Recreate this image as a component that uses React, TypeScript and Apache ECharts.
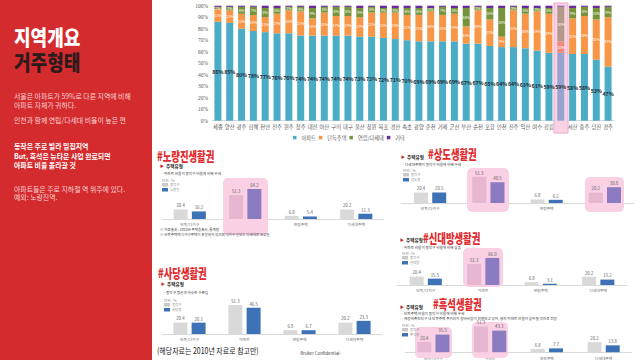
import React, { useEffect, useRef } from 'react';
import * as echarts from 'echarts';

// ---- Main chart data (주거형태 by city, %) ----
const cities = ['세종','양산','광주','김해','천안','전주','원주','청주','대전','아산','구미','대구','울산','창원','목포','경산','속초','광양','춘천','거제','군산','부산','순천','포항','인천','진주','익산','여수','강릉','서울','서산','충주','당진','경주'];
const apartment = [86,85,80,78,77,76,76,74,74,74,74,74,73,73,72,71,70,69,69,69,69,67,67,65,64,64,63,61,59,59,58,58,53,47];
const detached = [11,11,13,14,13,17,20,21,15,20,17,17,17,21,22,23,22,23,26,23,24,15,29,23,9,32,30,34,34,10,31,33,35,43];
const rowMulti = [2,3,6,7,8,5,3,4,9,5,8,8,8,5,4,4,6,6,3,7,5,16,3,10,25,3,5,3,5,30,9,8,10,9];
const others = [1,1,1,1,2,2,1,1,2,1,1,1,2,1,2,2,2,2,2,1,2,2,1,2,2,1,2,2,2,1,2,1,2,1];
const mainSeriesNames = ['아파트','단독주택','연립/다세대','기타'];

// ---- Small charts data (주택유형, %) ----
const houseTypes = ['단독/다가구','아파트','연립주택','다세대주택'];
const dongjakAvg = [20.4, 51.3, 6.8, 20.2];
const noryangjin = [16.2, 64.2, 5.4, 11.3];
const sangdo = [20.5, 40.5, 6.2, 30.8];
const sindaebang = [15.5, 66.0, 3.1, 13.2];
const sadang = [20.1, 46.5, 6.7, 23.3];
const heukseok = [35.3, 43.3, 7.7, 13.8];

const FONT = '"Noto Sans CJK KR", "Noto Sans", sans-serif';

const panels = [
  { title: '#노량진생활권', legendName: '노량진', values: noryangjin, hl: [1],
    desc: ['- 아파트 비율이 동작구 비율에 비해 우세'],
    titleX: 157, titleY: 155, subX: 160, subY: 166, descX: 162, descY: 173,
    unitX: 162, unitY: 180, gridLeft: 162, gridWidth: 222, gridTop: 181.6, gridHeight: 37.4, max: 80,
    boxes: [[223, 178, 45, 57]],
    notes: ['※ 자료출처 : 2010년 주택총조사, 통계청', '※ 단독주택에 다가구주택이 포함되어 있으며 다가구 일부는 다세대로 분류됨'] },
  { title: '#상도생활권', legendName: '상도동', values: sangdo, hl: [1, 3],
    desc: ['- 다세대주택이 동작구 비율에 비해 우세'],
    titleX: 428, titleY: 153.5, subX: 401, subY: 157, descX: 403, descY: 164,
    unitX: 403, unitY: 170, gridLeft: 401, gridWidth: 233, gridTop: 167.1, gridHeight: 35.9, max: 70,
    boxes: [[467, 168, 42, 44], [585, 177, 39, 35]], notes: [] },
  { title: '#신대방생활권', legendName: '신대방', values: sindaebang, hl: [1],
    desc: ['- 아파트 비율이 동작구 비율에 비해 높음'],
    titleX: 423, titleY: 237, subX: 400, subY: 240, descX: 402, descY: 247,
    unitX: 402, unitY: 253, gridLeft: 397, gridWidth: 230, gridTop: 252.2, gridHeight: 32.8, max: 80,
    boxes: [[463, 248, 40, 39]], notes: [] },
  { title: '#사당생활권', legendName: '사당동', values: sadang, hl: [],
    desc: ['- 동작구 평균과 비슷한 수준임'],
    titleX: 158, titleY: 272, subX: 161, subY: 284, descX: 164, descY: 292,
    unitX: 164, unitY: 300, gridLeft: 162, gridWidth: 220, gridTop: 300.1, gridHeight: 33.9, max: 60,
    boxes: [], notes: [] },
  { title: '#흑석생활권', legendName: '흑석동', values: heukseok, hl: [0, 1],
    desc: ['- 단독주택 비율이 동작구 비율에 비해 우세', '- 재정비촉진지구 내 단독주택 주거지가 정비사업이 진행되고 있어, 향후 아파트 비율이 높아질 것으로 전망'],
    titleX: 433, titleY: 303, subX: 400, subY: 306.5, descX: 402, descY: 313.5,
    unitX: 402, unitY: 325, gridLeft: 405, gridWidth: 227, gridTop: 322.3, gridHeight: 30.4, max: 60,
    boxes: [[415, 327, 37, 31], [472, 322, 36, 36]], notes: [] },
];

function txt(x: number, y: number, text: string, size: number, fill: string, weight: any = 'normal', extra: any = {}, el: any = {}) {
  return {
    type: 'text', x, y, z: 10, ...el,
    style: { text, fill, fontSize: size, fontWeight: weight, fontFamily: FONT, verticalAlign: 'middle', align: 'left', ...extra },
  };
}

export default function App() {
  const ref = useRef<HTMLDivElement>(null);
  useEffect(() => {
    if (!ref.current) return;
    const chart = echarts.init(ref.current, null, { renderer: 'svg' });
    const seoulIdx = cities.indexOf('서울');
    const mainColors = ['#4bacc6', '#f79646', '#77933c', '#6a2c9a'];
    const mutedColors = ['#99a3cf', '#f08b7d', '#b39a88', '#8d5fa3'];
    const mainData = [apartment, detached, rowMulti, others];

    const grids: any[] = [{ left: 212, top: 5.7, width: 402, height: 115 }];
    const xAxes: any[] = [{
      type: 'category', gridIndex: 0, data: cities,
      axisTick: { show: false }, axisLine: { lineStyle: { color: '#d9d9d9' } },
      axisLabel: { fontSize: 5.3, color: '#595959', interval: 0, margin: 4, fontFamily: FONT },
    }];
    const yAxes: any[] = [{
      type: 'value', gridIndex: 0, min: 0, max: 100, interval: 10,
      axisLabel: { formatter: (v: number) => v + '%', fontSize: 5.5, color: '#595959', margin: 4, fontFamily: '"Liberation Serif", serif' },
      splitLine: { show: false }, axisLine: { show: false }, axisTick: { show: false },
    }];
    const series: any[] = mainData.map((arr, si) => ({
      type: 'bar', name: mainSeriesNames[si], stack: 'total', xAxisIndex: 0, yAxisIndex: 0, barWidth: 7, z: 3,
      itemStyle: { color: mainColors[si] },
      data: arr.map((v, i) => (i === seoulIdx ? { value: v, itemStyle: { color: mutedColors[si] } } : v)),
      label: si === 0
        ? { show: true, position: 'inside', formatter: '{c}%', fontSize: 5.2, fontWeight: 'bold', color: '#1e2a33', fontFamily: FONT }
        : si < 3
          ? { show: true, position: 'inside', formatter: '{c}%', fontSize: 3.6, color: '#ffffff', fontFamily: FONT }
          : { show: false },
    }));

    const graphics: any[] = [
      { type: 'rect', shape: { x: 0, y: 0, width: 152, height: 360 }, style: { fill: '#d42b2e' }, z: 0 },
      txt(14, 36, '지역개요', 21, '#ffffff', 900, {}, { scaleX: 0.86 }),
      txt(14, 61, '거주형태', 21, '#2b1b1b', 900, {}, { scaleX: 0.86 }),
      txt(14, 96, '서울은 아파트가 59%로 다른 지역에 비해', 6.9, '#f8d3d3'),
      txt(14, 104.5, '아파트 자체가 귀하다.', 6.9, '#f8d3d3'),
      txt(14, 120, '인천과 함께 연립/다세대 비율이 높은 편', 6.9, '#f8d3d3'),
      txt(14, 146, '동작은 주로 빌라 밀집지역', 6.9, '#ffffff', 'bold'),
      txt(14, 155.5, 'But, 흑석은 뉴타운 사업 완료되면', 6.9, '#ffffff', 'bold'),
      txt(14, 164.5, '아파트 비율 올라갈 것', 6.9, '#ffffff', 'bold'),
      txt(14, 188.5, '아파트들은 주로 지하철 역 위주에 있다.', 6.9, '#f8d3d3'),
      txt(14, 197, '예외: 노량진역.', 6.9, '#f8d3d3'),
      // highlight behind 서울
      { type: 'rect', shape: { x: 554, y: 3, width: 14, height: 130 }, style: { fill: '#f9d2e5', stroke: '#f2a9cd', lineWidth: 1 }, z: 1 },
      txt(157, 350, '(해당자료는 2010년 자료로 참고만)', 8.5, '#1a1a1a', 'normal', {}, { scaleX: 0.82 }),
      txt(320, 353, '-Bruker Confidential-', 4.3, '#404040', 'normal', { align: 'center' }),
    ];

    panels.forEach((p, pi) => {
      const gi = pi + 1;
      grids.push({ left: p.gridLeft, top: p.gridTop, width: p.gridWidth, height: p.gridHeight });
      xAxes.push({
        type: 'category', gridIndex: gi, data: houseTypes,
        axisTick: { show: false }, axisLine: { lineStyle: { color: '#d9d9d9', width: 1 } },
        axisLabel: { fontSize: 3.8, color: '#6f6f6f', margin: 4, interval: 0, fontFamily: FONT },
      });
      yAxes.push({ type: 'value', gridIndex: gi, min: 0, max: p.max, show: false, splitLine: { show: false } });
      const lbl = { show: true, position: 'top', fontSize: 4.3, color: '#595959', distance: 2, fontFamily: FONT,
        formatter: (d: any) => Number(d.value).toFixed(1) };
      series.push({
        type: 'bar', name: '동작구', xAxisIndex: gi, yAxisIndex: gi, barWidth: 14, barGap: '30%', z: 3,
        itemStyle: { color: '#d9d9d9' },
        data: dongjakAvg.map((v, i) => (p.hl.includes(i) ? { value: v, itemStyle: { color: '#e7b6d1' } } : v)),
        label: lbl,
      });
      series.push({
        type: 'bar', name: p.legendName, xAxisIndex: gi, yAxisIndex: gi, barWidth: 14, barGap: '30%', z: 3,
        itemStyle: { color: '#3e72b7' },
        data: p.values.map((v, i) => (p.hl.includes(i) ? { value: v, itemStyle: { color: '#8b7cc2' } } : v)),
        label: lbl,
      });
      p.boxes.forEach((b) => graphics.push({
        type: 'rect', shape: { x: b[0], y: b[1], width: b[2], height: b[3], r: 5 }, style: { fill: '#f9d0e4' }, z: 1,
      }));
      graphics.push(txt(p.titleX, p.titleY, p.title, 13, '#e12c2f', 900, {}, { scaleX: 0.72 }));
      graphics.push(txt(p.subX, p.subY, '▶', 4, '#c0282c'));
      graphics.push(txt(p.subX + 6, p.subY, '주택유형', 4.6, '#262626', 'bold'));
      p.desc.forEach((d, di) => graphics.push(txt(p.descX, p.descY + di * 5, d, 3.6, '#404040')));
      graphics.push(txt(p.unitX, p.unitY, '단위 : %', 3.6, '#8c8c8c'));
      graphics.push({ type: 'rect', shape: { x: p.unitX, y: p.unitY + 3, width: 6, height: 3.5 }, style: { fill: '#c8c8c8' }, z: 10 });
      graphics.push(txt(p.unitX + 8, p.unitY + 4.8, '동작구', 3.4, '#8c8c8c'));
      graphics.push({ type: 'rect', shape: { x: p.unitX, y: p.unitY + 8, width: 6, height: 3.5 }, style: { fill: '#3e72b7' }, z: 10 });
      graphics.push(txt(p.unitX + 8, p.unitY + 9.8, p.legendName, 3.4, '#8c8c8c'));
      p.notes.forEach((n, ni) => graphics.push(txt(160, 229 + ni * 5, n, 3.5, '#404040')));
    });

    chart.setOption({
      animation: false,
      backgroundColor: '#ffffff',
      textStyle: { fontFamily: FONT },
      legend: {
        data: mainSeriesNames, left: 293, top: 135, icon: 'rect', itemWidth: 3.5, itemHeight: 3.5, itemGap: 3, padding: 0,
        textStyle: { fontSize: 5.2, color: '#595959', fontFamily: FONT },
      },
      grid: grids,
      xAxis: xAxes,
      yAxis: yAxes,
      series,
      graphic: graphics,
    });
    return () => chart.dispose();
  }, []);
  return <div ref={ref} style={{ position: 'absolute', left: 0, top: 0, width: 640, height: 360 }} />;
}
